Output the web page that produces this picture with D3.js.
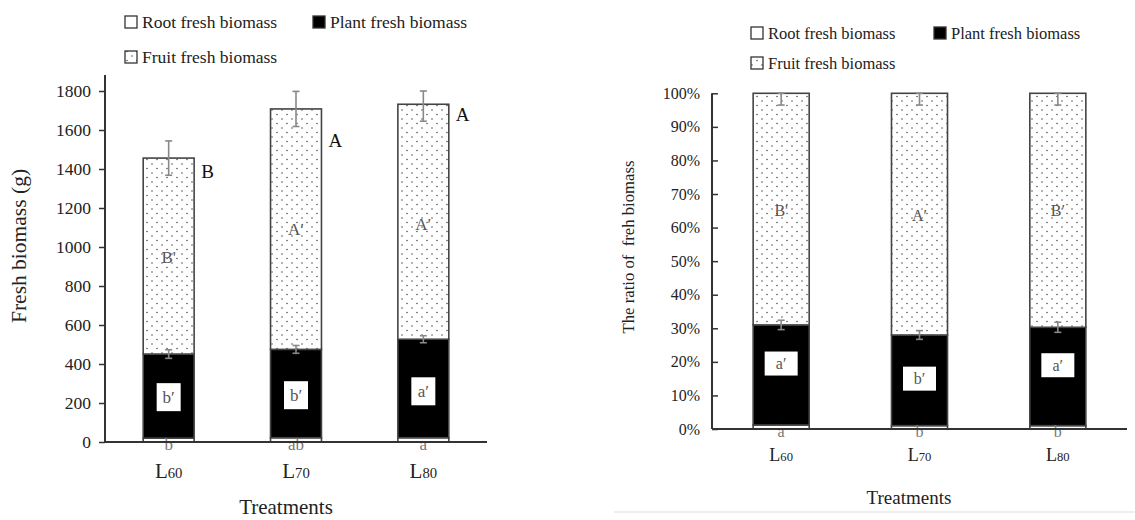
<!DOCTYPE html>
<html><head><meta charset="utf-8">
<script src="https://cdn.jsdelivr.net/npm/d3@7"></script>
<style>body{margin:0;background:#fff}svg{display:block}svg text{font-family:"Liberation Serif","Times New Roman",serif !important}</style>
</head><body><svg id="c" width="1135" height="520" font-family="Liberation Serif"></svg>
<script>
const categories = ["L60","L70","L80"];
const catMain = ["L","L","L"], catSub = ["60","70","80"];
// left: fresh biomass (g)
const rootG = [20, 22, 22];
const plantG = [431, 453, 505];
const fruitG = [1005, 1233, 1205];
const plantErrG = [22, 20, 18];
const totalErrG = [88, 90, 87];
const totalLetters = ["B","A","A"];
const fruitLettersG = ["B'","A′","A′"];
const plantLettersG = ["b′","b′","a′"];
const rootLettersG = ["b","ab","a"];
const totalLetterY = [1390, 1545, 1680];
const fruitLetterY = [950, 1090, 1120];
const plantLetterY = [230, 240, 260];
const leftTicks = [0,200,400,600,800,1000,1200,1400,1600,1800];
// right: ratio (%)
const rootP = [1.2, 1.0, 1.0];
const plantP = [29.8, 27.0, 29.3];
const fruitP = [69.0, 72.0, 69.7];
const plantErrP = [1.4, 1.3, 1.5];
const fruitErrP = [3.5, 3.5, 3.5];
const fruitLettersP = ["B'","A′","B′"];
const plantLettersP = ["a′","b′","a′"];
const rootLettersP = ["a","b","b"];
const fruitLetterYP = [65, 63.5, 65];
const plantLetterYP = [19.5, 15, 19];
const rightTicks = [0,10,20,30,40,50,60,70,80,90,100];
const legendNames = ["Root fresh biomass","Plant fresh biomass","Fruit fresh biomass"];

const FONT = "Liberation Serif";
const svg = d3.select("#c");
const defs = svg.append("defs");
const pat = defs.append("pattern").attr("id","dots").attr("patternUnits","userSpaceOnUse")
  .attr("width",10).attr("height",9);
pat.append("rect").attr("width",10).attr("height",9).attr("fill","#fff");
pat.append("circle").attr("cx",2).attr("cy",2).attr("r",0.8).attr("fill","#555");
pat.append("circle").attr("cx",7).attr("cy",6.5).attr("r",0.8).attr("fill","#555");

function txt(sel){ return sel.append("text").attr("font-family",FONT); }

function drawChart(o){
  const g = svg.append("g");
  const x = d3.scaleBand().domain(categories).range(o.xr).paddingInner(0).paddingOuter(0);
  const y = d3.scaleLinear().domain(o.yd).range(o.yr);
  const bw = x.bandwidth()*o.bwf;
  const ya = o.inward ? d3.axisRight(y) : d3.axisLeft(y);
  const ag = g.append("g").attr("transform",`translate(${o.xr[0]},0)`)
    .call(ya.tickValues(o.ticks).tickSize(6).tickFormat(o.fmt));
  ag.attr("font-family",FONT);
  ag.select(".domain").remove();
  ag.selectAll(".tick line").attr("stroke","#333").attr("stroke-width",1.5);
  ag.selectAll(".tick text").attr("font-size",o.tickFs).attr("fill","#222")
    .attr("x", o.tickDx).attr("text-anchor","end").attr("font-family",FONT);
  g.append("line").attr("x1",o.xr[0]).attr("x2",o.xr[0]).attr("y1",o.yr[0]).attr("y2",o.axisTop)
    .attr("stroke","#333").attr("stroke-width",2);
  categories.forEach((c,i)=>{
    const cx = x(c)+x.bandwidth()/2, x0 = cx-bw/2;
    const r = o.root[i], p = o.plant[i], f = o.fruit[i];
    const segs = [[0,r,"#fff"],[r,r+p,"#000"],[r+p,r+p+f,"url(#dots)"]];
    segs.forEach(s=>{
      g.append("rect").attr("x",x0).attr("y",y(s[1])).attr("width",bw).attr("height",y(s[0])-y(s[1]))
        .attr("fill",s[2]).attr("stroke","#444").attr("stroke-width",1.6);
    });
    const eb=(v0,v1)=>{
      g.append("line").attr("x1",cx).attr("x2",cx).attr("y1",y(v0)).attr("y2",y(v1)).attr("stroke","#888").attr("stroke-width",1.6);
      [v0,v1].forEach(v=>g.append("line").attr("x1",cx-3.5).attr("x2",cx+3.5).attr("y1",y(v)).attr("y2",y(v)).attr("stroke","#888").attr("stroke-width",1.6));
    };
    eb(r+p-o.pErr[i], r+p+o.pErr[i]);
    const tot=r+p+f;
    eb(tot-o.tErr[i], Math.min(o.yd[1], tot+o.tErr[i]));
    const bx = o.boxW, by = o.boxH;
    g.append("rect").attr("x",cx-bx/2).attr("y",y(o.pLY[i])-by/2).attr("width",bx).attr("height",by).attr("fill","#fff");
    txt(g).attr("x",cx).attr("y",y(o.pLY[i])).attr("dy","0.35em").attr("text-anchor","middle")
      .attr("font-size",o.lblFs).attr("fill","#555").text(o.pL[i]);
    txt(g).attr("x",cx).attr("y",y(o.fLY[i])).attr("dy","0.35em").attr("text-anchor","middle")
      .attr("font-size",o.lblFs).attr("fill","#555").text(o.fL[i]);
    txt(g).attr("x",cx).attr("y",o.yr[0]+2).attr("dy","0.35em").attr("text-anchor","middle")
      .attr("font-size",o.lblFs).attr("fill","#777").text(o.rL[i]);
    if(o.tL){
      txt(g).attr("x",x0+bw+7).attr("y",y(o.tLY[i])).attr("dy","0.35em").attr("text-anchor","start")
        .attr("font-size",19).attr("fill","#111").text(o.tL[i]);
    }
    const t = txt(g).attr("x",cx).attr("y",o.catY).attr("dy","0.35em").attr("text-anchor","middle").attr("fill","#222");
    t.append("tspan").attr("font-size",o.catFs).text(catMain[i]);
    t.append("tspan").attr("font-size",o.catFs*0.7).text(catSub[i]);
  });
  g.append("line").attr("x1",o.xr[0]).attr("x2",o.xr[1]).attr("y1",o.yr[0]).attr("y2",o.yr[0]).attr("stroke","#333").attr("stroke-width",2);
  txt(g).attr("x",o.xtX).attr("y",o.xtY).attr("dy","0.35em").attr("text-anchor","middle")
    .attr("font-size",o.xtFs).attr("fill","#222").text("Treatments");
  txt(g).attr("transform",`translate(${o.ytX},${o.ytY}) rotate(-90)`).attr("dy","0.35em").attr("text-anchor","middle")
    .attr("font-size",o.ytFs).attr("fill","#222").style("white-space","pre").text(o.ytitle);
  const lg = g.append("g");
  const fills=["#fff","#000","url(#dots)"];
  const pos=[[o.lx[0],o.ly[0]],[o.lx[1],o.ly[0]],[o.lx[0],o.ly[1]]];
  legendNames.forEach((n,k)=>{
    lg.append("rect").attr("x",pos[k][0]).attr("y",pos[k][1]-6).attr("width",12).attr("height",12)
      .attr("fill",fills[k]).attr("stroke","#333").attr("stroke-width",1.3);
    txt(lg).attr("x",pos[k][0]+17).attr("y",pos[k][1]).attr("dy","0.35em").attr("font-size",o.legFs).attr("fill","#222").text(n);
  });
}

drawChart({xr:[105,487], yd:[0,1800], yr:[442,91], axisTop:75, bwf:0.4, ticks:leftTicks, fmt:d3.format("d"),
  inward:false, tickFs:17.5, tickDx:-14, root:rootG, plant:plantG, fruit:fruitG, pErr:plantErrG, tErr:totalErrG,
  pL:plantLettersG, fL:fruitLettersG, rL:rootLettersG, tL:totalLetters, tLY:totalLetterY, fLY:fruitLetterY, pLY:plantLetterY,
  boxW:24, boxH:28, lblFs:17, catY:472, catFs:21, xtX:286, xtY:507, xtFs:21, ytX:18, ytY:246, ytFs:21.5,
  ytitle:"Fresh biomass (g)", lx:[125,313], ly:[22,57], legFs:17.5});

drawChart({xr:[712,1127], yd:[0,100], yr:[429,93.3], axisTop:93.3, bwf:0.405, ticks:rightTicks, fmt:d=>d+"%",
  inward:true, tickFs:16, tickDx:-12, root:rootP, plant:plantP, fruit:fruitP, pErr:plantErrP, tErr:fruitErrP,
  pL:plantLettersP, fL:fruitLettersP, rL:rootLettersP, tL:null, fLY:fruitLetterYP, pLY:plantLetterYP,
  boxW:33, boxH:24, lblFs:16, catY:455, catFs:18, xtX:909, xtY:497, xtFs:19, ytX:628, ytY:247, ytFs:16.7,
  ytitle:"The ratio of  freh biomass", lx:[751,934], ly:[33,63], legFs:16.5});
svg.append("line").attr("x1",614).attr("x2",1135).attr("y1",512).attr("y2",512).attr("stroke","#ddd").attr("stroke-width",1);
</script></body></html>
